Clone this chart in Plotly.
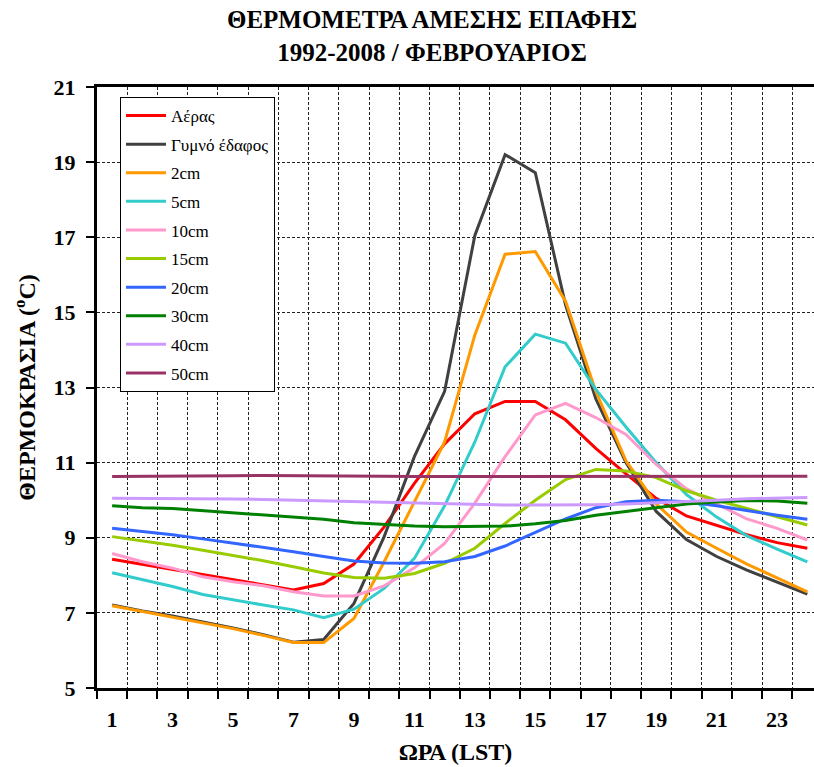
import plotly.graph_objects as go

# Hourly mean temperatures (LST), February 1992-2008
hours = list(range(1, 25))

air = [8.43, 8.29, 8.16, 8.01, 7.88, 7.74, 7.61, 7.78, 8.30, 9.29, 10.45, 11.50,
       12.30, 12.63, 12.63, 12.14, 11.38, 10.70, 10.05, 9.58, 9.33, 9.08, 8.87, 8.72]
bare_soil = [7.21, 7.05, 6.92, 6.77, 6.60, 6.42, 6.22, 6.29, 7.25, 9.03, 11.16, 12.90,
             17.05, 19.20, 18.72, 15.20, 12.70, 11.00, 9.70, 8.95, 8.50, 8.14, 7.83, 7.50]
cm2 = [7.19, 7.04, 6.90, 6.75, 6.58, 6.40, 6.21, 6.21, 6.85, 8.36, 9.95, 11.55,
       14.40, 16.55, 16.62, 15.30, 12.90, 11.05, 9.90, 9.15, 8.72, 8.30, 7.93, 7.56]
cm5 = [8.07, 7.89, 7.70, 7.49, 7.34, 7.21, 7.08, 6.87, 7.10, 7.65, 8.45, 9.85,
       11.55, 13.55, 14.42, 14.18, 12.95, 11.95, 11.00, 10.15, 9.55, 9.05, 8.70, 8.36]
cm10 = [8.58, 8.36, 8.19, 7.96, 7.83, 7.72, 7.56, 7.45, 7.45, 7.72, 8.20, 8.85,
        9.92, 11.16, 12.27, 12.58, 12.20, 11.75, 10.95, 10.30, 9.90, 9.50, 9.25, 8.94]
cm15 = [9.03, 8.92, 8.80, 8.67, 8.54, 8.39, 8.23, 8.06, 7.94, 7.92, 8.05, 8.32,
        8.72, 9.38, 10.00, 10.55, 10.82, 10.78, 10.60, 10.25, 10.00, 9.78, 9.55, 9.34]
cm20 = [9.25, 9.17, 9.08, 8.97, 8.86, 8.75, 8.63, 8.50, 8.38, 8.33, 8.32, 8.36,
        8.50, 8.78, 9.15, 9.50, 9.80, 9.96, 10.00, 9.96, 9.85, 9.72, 9.60, 9.49]
cm30 = [9.85, 9.80, 9.78, 9.72, 9.67, 9.60, 9.54, 9.49, 9.40, 9.35, 9.31, 9.29,
        9.29, 9.31, 9.37, 9.46, 9.60, 9.70, 9.80, 9.90, 9.95, 9.99, 9.98, 9.92]
cm40 = [10.05, 10.05, 10.05, 10.04, 10.03, 10.02, 10.00, 9.99, 9.97, 9.94, 9.92, 9.90,
        9.88, 9.87, 9.87, 9.87, 9.88, 9.90, 9.93, 9.96, 10.00, 10.04, 10.06, 10.07]
cm50 = [10.63, 10.63, 10.64, 10.64, 10.65, 10.66, 10.66, 10.65, 10.65, 10.64, 10.63, 10.63,
        10.63, 10.63, 10.63, 10.63, 10.63, 10.63, 10.63, 10.63, 10.63, 10.63, 10.64, 10.64]

series_names = ["Αέρας", "Γυμνό έδαφος", "2cm", "5cm", "10cm",
                "15cm", "20cm", "30cm", "40cm", "50cm"]
series_values = [air, bare_soil, cm2, cm5, cm10, cm15, cm20, cm30, cm40, cm50]
series_colors = ["#FF0000", "#404040", "#FF9900", "#33CCCC", "#FF99CC",
                 "#99CC00", "#3366FF", "#008000", "#CC99FF", "#993366"]

x_tick_labels = [str(h) for h in range(1, 25, 2)]
y_ticks = list(range(5, 22, 2))

SERIF = "Liberation Serif"
x_range = [0.5, 24.22]

fig = go.Figure()
for name, vals, col in zip(series_names, series_values, series_colors):
    fig.add_trace(go.Scatter(x=hours, y=vals, name=name, mode="lines",
                             legendgroup=name,
                             line=dict(color=col, width=3)))

# invisible carrier for the labelling axis
fig.add_trace(go.Scatter(x=hours, y=air, xaxis="x2", mode="lines",
                         line=dict(width=0), opacity=0, showlegend=False,
                         hoverinfo="skip"))

fig.update_layout(
    width=814, height=767,
    margin=dict(l=97, r=0, t=87, b=79),
    paper_bgcolor="white", plot_bgcolor="white",
    showlegend=True,
    title=dict(text="ΘΕΡΜΟΜΕΤΡΑ ΑΜΕΣΗΣ ΕΠΑΦΗΣ<br>1992-2008 / ΦΕΒΡΟΥΑΡΙΟΣ",
               xref="container", x=432 / 814, xanchor="center",
               yref="container", y=1 - 28 / 767, yanchor="top",
               font=dict(family=SERIF, size=25, color="black", weight="bold")),
    xaxis=dict(range=x_range, tickmode="array",
               tickvals=[h + 0.5 for h in range(0, 25)],
               showticklabels=False, ticks="outside", ticklen=8, tickwidth=2,
               tickcolor="black", showline=True, linecolor="black", linewidth=3,
               mirror=True, showgrid=True, gridcolor="#222", gridwidth=1,
               griddash="3px,2px", zeroline=False),
    xaxis2=dict(overlaying="x", anchor="y", side="bottom", range=x_range,
                tickmode="array", tickvals=list(range(1, 25, 2)),
                ticktext=x_tick_labels, ticks="outside", ticklen=12,
                tickcolor="rgba(0,0,0,0)", showgrid=False, showline=False,
                zeroline=False,
                tickfont=dict(family=SERIF, size=22, color="black", weight="bold"),
                title=dict(text="ΩΡΑ (LST)", standoff=11,
                           font=dict(family=SERIF, size=24, color="black", weight="bold"))),
    yaxis=dict(range=[5, 21], tickmode="array", tickvals=y_ticks,
               ticks="outside", ticklen=8, tickwidth=2, tickcolor="black",
               ticklabelstandoff=6,
               showline=True, linecolor="black", linewidth=3,
               showgrid=True, gridcolor="#222", gridwidth=1, griddash="3px,2px",
               zeroline=False,
               tickfont=dict(family=SERIF, size=22, color="black", weight="bold"),
               title=dict(text="ΘΕΡΜΟΚΡΑΣΙΑ (<sup>o</sup>C)", standoff=12,
                          font=dict(family=SERIF, size=24, color="black", weight="bold"))),
    legend=dict(x=(120 - 97) / 717, y=(688 - 97) / 601, xanchor="left", yanchor="top",
                bgcolor="white", bordercolor="black", borderwidth=1,
                font=dict(family=SERIF, size=17, color="black"),
                tracegroupgap=3.5, itemwidth=40),
)

fig.write_html("out.html")
